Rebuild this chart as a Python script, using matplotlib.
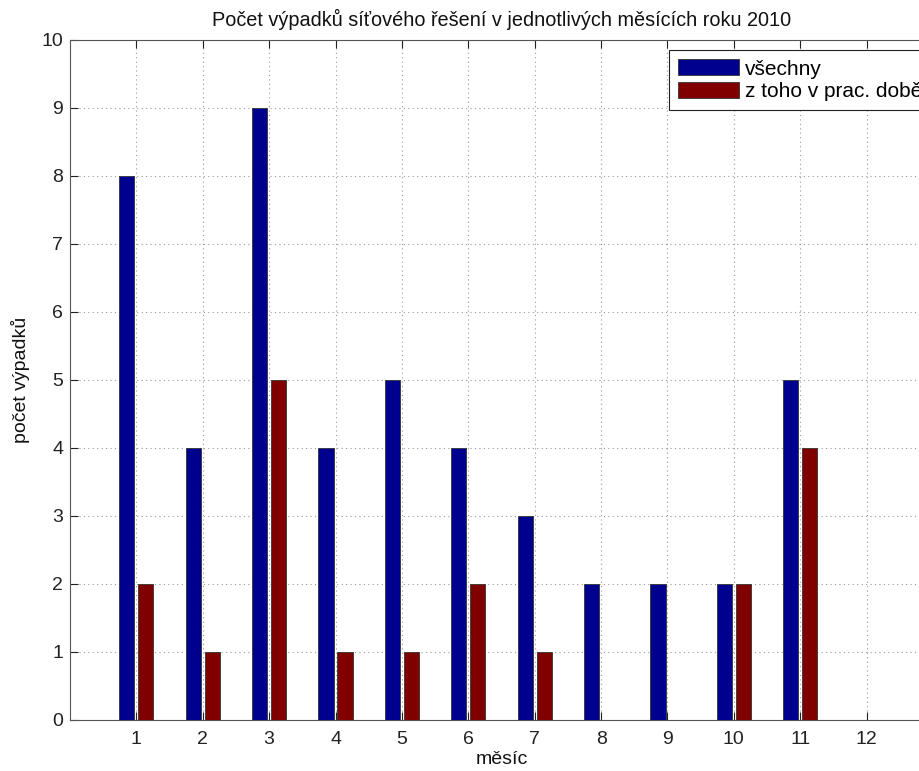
import matplotlib
matplotlib.use("Agg")
import matplotlib.pyplot as plt
import numpy as np

plt.rcParams['font.family'] = ['Liberation Sans', 'DejaVu Sans']

months = [1, 2, 3, 4, 5, 6, 7, 8, 9, 10, 11, 12]
all_outages = [8, 4, 9, 4, 5, 4, 3, 2, 2, 2, 5, 0]
work_outages = [2, 1, 5, 1, 1, 2, 1, 0, 0, 2, 4, 0]
series_labels = ["všechny", "z toho v prac. době"]
yticks = list(range(0, 11))

W, H = 920, 771
FS = 14
fig = plt.figure(figsize=(W / 100, H / 100), dpi=100)
ax = fig.add_axes([70 / W, 1 - 720 / H, 863 / W, 680 / H])

x = np.array(months)
bw = 0.2286
off = 0.1429
ax.bar(x - off, all_outages, width=bw, color='#00008F', edgecolor='#333333',
       linewidth=0.6, label=series_labels[0], zorder=3)
ax.bar(x + off, work_outages, width=bw, color='#800000', edgecolor='#333333',
       linewidth=0.6, label=series_labels[1], zorder=3)

ax.set_xlim(0, 13)
ax.set_ylim(0, 10)
ax.set_xticks(months)
ax.set_yticks(yticks)
ax.tick_params(direction='in', top=True, right=True, length=6, width=0.8,
               labelsize=FS, colors='#222222')
ax.tick_params(axis='y', pad=5)
ax.tick_params(axis='x', pad=8)
ax.grid(True, linestyle=(0, (1, 3)), color='#999999', linewidth=0.8, zorder=0)
for s in ax.spines.values():
    s.set_color('#555555')
    s.set_linewidth(0.8)

ax.set_title("Počet výpadků síťového řešení v jednotlivých měsících roku 2010",
             fontsize=14.3, pad=10, color='#111111')
ax.set_xlabel("měsíc", fontsize=FS, labelpad=2, color='#111111')
ax.set_ylabel("počet výpadků", fontsize=FS, labelpad=8, color='#111111')

leg = ax.legend(loc='upper left', bbox_to_anchor=(669 / W, 1 - 50 / H),
                bbox_transform=fig.transFigure, fancybox=False, framealpha=1,
                edgecolor='#222222', fontsize=15, handlelength=2.9,
                handleheight=0.8, handletextpad=0.3, borderpad=0.45,
                labelspacing=0.15, borderaxespad=0)
leg.get_frame().set_linewidth(0.8)

fig.savefig("out.png", dpi=100)
